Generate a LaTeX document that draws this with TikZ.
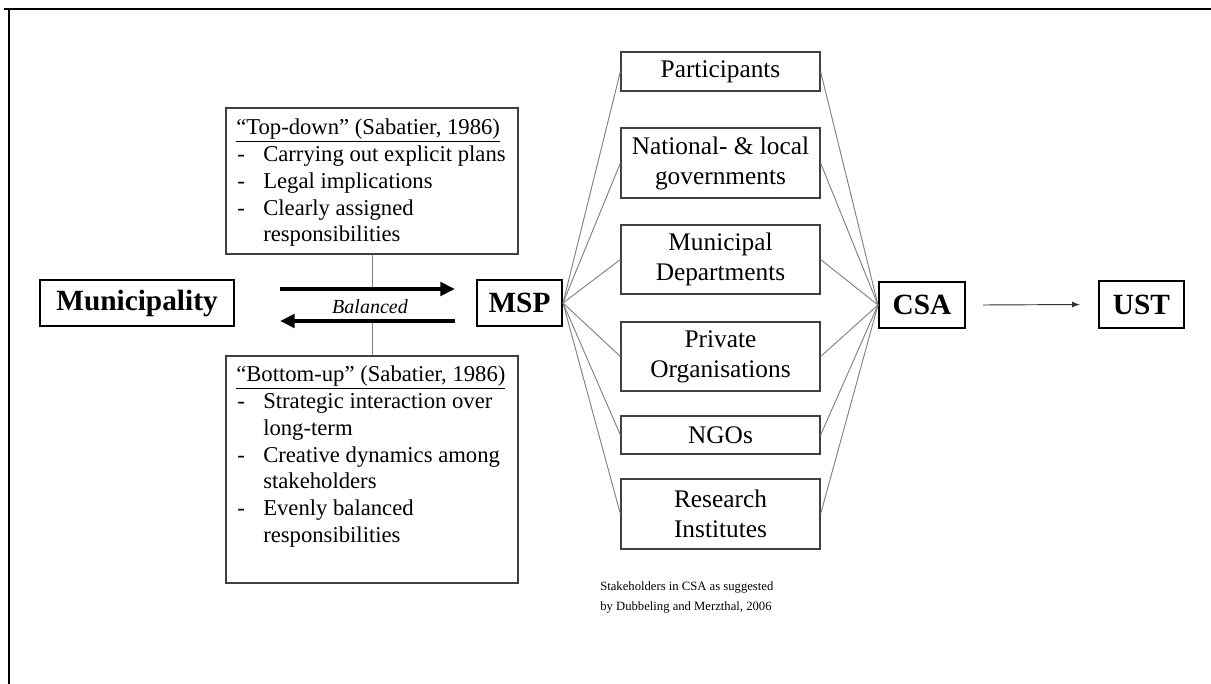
\documentclass[tikz,border=0pt]{standalone}
\usepackage{fontspec}
\setmainfont{Liberation Serif}
\usetikzlibrary{arrows.meta}
\tikzset{
  mainbox/.style={draw=black, line width=1.5pt, inner sep=0pt, font=\fontsize{22}{26}\selectfont\bfseries},
  stakebox/.style={draw=black!75, line width=0.9pt, inner sep=0pt, minimum width=149.25pt, align=center, font=\fontsize{19}{22.5}\selectfont},
  textbox/.style={draw=black!75, line width=0.9pt, inner sep=0pt, minimum width=219pt},
  bodytext/.style={anchor=base west, inner sep=0pt, font=\fontsize{17}{20}\selectfont},
  link/.style={draw=black!50, line width=0.7pt},
  bigarrow/.style={line width=3pt, -{Triangle[length=11pt,width=10pt]}},
  thinarrow/.style={draw=black!80, line width=0.7pt, -{Latex[length=6pt,width=4.5pt]}},
}
\begin{document}
\begin{tikzpicture}[x=0.75pt, y=-0.75pt]
\useasboundingbox (0,0) rectangle (1211,684);
% frame
\draw[line width=2pt] (4,9) -- (1211,9);
\draw[line width=1.6pt] (9,8) -- (9,684);

% main boxes
\node[mainbox, minimum width=145.5pt, minimum height=34.5pt] (mun) at (137,303) {Municipality};
\node[mainbox, minimum width=63.75pt, minimum height=34.5pt] (msp) at (519.5,303) {MSP};
\node[mainbox, minimum width=64.5pt, minimum height=34.5pt] (csa) at (922,305) {CSA};
\node[mainbox, minimum width=63.75pt, minimum height=35.25pt] (ust) at (1141.5,304.5) {UST};

% top-down / bottom-up boxes
\node[textbox, minimum height=109.5pt] (td) at (372,181) {};
\node[textbox, minimum height=170.25pt] (bu) at (372,469.5) {};

% top-down text
\node[bodytext] (td0) at (236,135) {\underline{“Top-down” (Sabatier, 1986)}};
\node[bodytext] (td1d) at (237,162) {-};
\node[bodytext] (td1) at (263,162) {Carrying out explicit plans};
\node[bodytext] (td2d) at (237,188.75) {-};
\node[bodytext] (td2) at (263,188.75) {Legal implications};
\node[bodytext] (td3d) at (237,215.5) {-};
\node[bodytext] (td3) at (263,215.5) {Clearly assigned};
\node[bodytext] (td4) at (263,242) {responsibilities};

% bottom-up text
\node[bodytext] (bu0) at (236,382) {\underline{“Bottom-up” (Sabatier, 1986)}};
\node[bodytext] (bu1d) at (237,408.5) {-};
\node[bodytext] (bu1) at (263,408.5) {Strategic interaction over};
\node[bodytext] (bu2) at (263,435.25) {long-term};
\node[bodytext] (bu3d) at (237,462) {-};
\node[bodytext] (bu3) at (263,462) {Creative dynamics among};
\node[bodytext] (bu4) at (263,488.75) {stakeholders};
\node[bodytext] (bu5d) at (237,515.5) {-};
\node[bodytext] (bu5) at (263,515.5) {Evenly balanced};
\node[bodytext] (bu6) at (263,542) {responsibilities};

% balanced arrows
\coordinate (ra1) at (280,289);
\coordinate (ra2) at (455,289);
\coordinate (la1) at (455,321);
\coordinate (la2) at (280,321);
\node[inner sep=1pt, font=\fontsize{15}{18}\selectfont\itshape] (bal) at (370,307) {Balanced};
\draw[link] (td.south) -- (ra1 -| td.south);
\draw[link] (la1 -| bu.north) -- (bu.north);
\draw[bigarrow] (ra1) -- (ra2);
\draw[bigarrow] (la1) -- (la2);

% stakeholder boxes
\node[stakebox, minimum height=29.25pt] (s1) at (720.5,71.5) {Participants};
\node[stakebox, minimum height=52.5pt] (s2) at (720.5,163) {National- \& local\\governments};
\node[stakebox, minimum height=51.75pt] (s3) at (720.5,259.5) {Municipal\\Departments};
\node[stakebox, minimum height=51.75pt] (s4) at (720.5,356.5) {Private\\Organisations};
\node[stakebox, minimum height=28.5pt] (s5) at (720.5,435) {NGOs};
\node[stakebox, minimum height=52.5pt] (s6) at (720.5,514) {Research\\Institutes};

\foreach \s in {s1,s2,s3,s4,s5,s6}{
  \draw[link] (msp.east) -- (\s.west);
  \draw[link] (\s.east) -- (csa.west);
}

\draw[thinarrow] ([xshift=12.75pt]csa.east) -- ([xshift=-13.5pt]ust.west);

% caption
\node[anchor=north west, inner sep=0pt, align=left, font=\fontsize{9.5}{15}\selectfont] (cap) at (600,581) {Stakeholders in CSA as suggested\\by Dubbeling and Merzthal, 2006};
\end{tikzpicture}
\end{document}
